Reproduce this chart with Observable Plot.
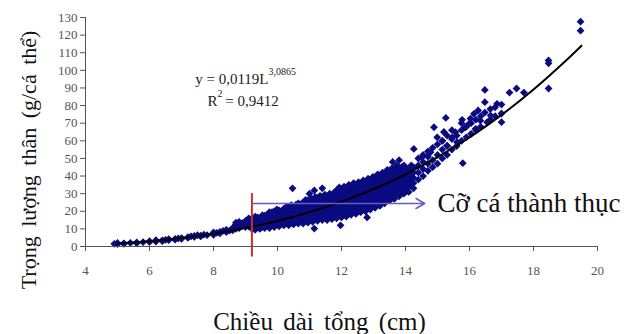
<!DOCTYPE html>
<html>
<head>
<meta charset="utf-8">
<script src="https://cdn.jsdelivr.net/npm/d3@7"></script>
<script src="https://cdn.jsdelivr.net/npm/@observablehq/plot@0.6"></script>
<style>
  html, body { margin: 0; padding: 0; background: #fff; }
  #chart svg { display: block; }
</style>
</head>
<body>
<div id="chart"></div>
<script>
// ---- tick labels ----
const xTicks = [4, 6, 8, 10, 12, 14, 16, 18, 20];
const yTicks = [0, 10, 20, 30, 40, 50, 60, 70, 80, 90, 100, 110, 120, 130];

// ---- text ----
const xLabel = "Chiều dài tổng (cm)";
const yLabel = "Trọng lượng thân (g/cá thể)";
const maturityLabel = "Cỡ cá thành thục";
const eqMain = "y = 0,0119L";
const eqExp = "3,0865";
const r2Main = "R";
const r2Exp = "2";
const r2Value = " = 0,9412";

// ---- maturity marker (length cm, weight g) ----
const maturityLength = [9.2];
const maturityArrow = [{from: 9.2, to: 14.6, w: 24.4}];

// ---- fitted curve (length cm, weight g) ----
const curveLength = [5, 6, 7, 8, 9, 10, 11, 12, 13, 14, 15, 16, 17, 18, 19, 19.5];
const curveWeight = [1.7, 3.0, 4.8, 7.3, 10.5, 14.5, 19.5, 25.5, 32.6, 41.0, 50.8, 61.9, 74.7, 89.1, 105.3, 114.0];

// ---- observed fish: each row = [length, weight, weight, ...] ----
const weightsByLength = [
  [4.9, 1.5], [5.0, 1.3, 2.0], [5.2, 1.8, 1.5], [5.4, 2.0], [5.6, 2.3, 1.9], [5.8, 2.5],
  [6.0, 3.0, 2.5], [6.2, 3.2, 2.8, 3.6], [6.4, 3.5, 3.0], [6.5, 3.8], [6.6, 3.6, 4.2],
  [6.8, 4.3, 3.9], [6.9, 4.6], [7.0, 4.8, 4.4], [7.2, 5.3, 4.9], [7.3, 5.8], [7.4, 6.0, 5.4],
  [7.5, 6.4], [7.6, 6.2, 5.7], [7.7, 6.7], [7.8, 6.5], [8.0, 7.2, 6.6, 8.0], [8.1, 7.8],
  [8.2, 8.3, 7.5], [8.3, 8.9], [8.4, 8.2, 9.5], [8.5, 9.0], [8.6, 10.5, 9.2],
  [8.7, 12.5, 10.0, 13.5], [8.8, 11.5, 14.0, 10.4], [8.9, 12.0, 13.3], [9.0, 11.0, 12.8, 14.5],
  [9.1, 11.5, 13.5, 16.0],
  // dense band of mature fish
  [9.2, 10, 12, 14.5, 16], [9.3, 9.5, 11.5, 13.5, 15.5, 17], [9.38, 10.8, 12.8, 14.8, 16.5],
  [9.45, 10, 12, 14, 16], [9.53, 11.2, 13.5, 16, 17.8], [9.6, 10.5, 12.5, 15, 17.5],
  [9.68, 11.8, 14, 16, 18.2], [9.75, 10.5, 13, 15, 17, 19.5], [9.83, 12.2, 14.8, 17.2, 19.5],
  [9.9, 11, 13.5, 16, 18.5, 20], [9.98, 12.5, 14.8, 17, 19.2, 21],
  [10.05, 11.5, 13.5, 16, 18, 20.5], [10.13, 12.8, 15.2, 17.8, 20.2],
  [10.2, 12, 14, 16.5, 19, 21.5], [10.28, 13.2, 15.8, 18.2, 20.8, 22.5],
  [10.35, 12, 14.5, 17, 19.5, 22], [10.43, 13.8, 16.2, 18.8, 21.2, 23.5],
  [10.5, 12.5, 15, 17.5, 20, 22.5], [10.58, 14, 16.2, 18.8, 21.2, 23.8],
  [10.65, 13, 15, 17.5, 20, 22.5, 24.5], [10.73, 14.2, 16.8, 19.2, 21.8, 24],
  [10.8, 13, 15.5, 18, 20.5, 23, 25], [10.88, 14.8, 17.2, 19.8, 22.2, 24.5, 26.5],
  [10.95, 13.5, 16, 18.5, 21, 23.5, 26], [11.03, 15.2, 17.8, 20.2, 22.8, 25.2, 27.5],
  [11.1, 14, 16.5, 19, 21.5, 24, 26.5], [11.18, 15.8, 18.2, 20.8, 23.2, 26, 28.2],
  [11.25, 14.5, 17, 19.5, 22, 24.5, 27.5], [11.33, 16.2, 18.8, 21.2, 23.8, 26.2, 28.8],
  [11.4, 15, 17.5, 20, 22.5, 25, 28], [11.48, 16.2, 18.8, 21.5, 24.2, 26.8, 29.5],
  [11.55, 15, 17.5, 20, 23, 25.5, 28.5], [11.63, 16.8, 19.2, 22, 24.8, 27.5, 30],
  [11.7, 15.5, 18, 20.5, 23.5, 26, 29], [11.78, 17.2, 19.8, 22.5, 25.2, 28, 30.8],
  [11.85, 16, 18.5, 21, 24, 26.5, 29.5, 32], [11.93, 17.8, 20.5, 23.2, 25.8, 28.5, 31.2, 33.5],
  [12.0, 16.5, 19, 22, 24.5, 27, 30, 32.5], [12.08, 18.2, 21.2, 23.8, 26.2, 28.8, 31.8, 34],
  [12.15, 17, 19.5, 22.5, 25, 27.5, 30.5, 33], [12.23, 19.2, 21.8, 24.5, 27.2, 29.8, 32.5, 35],
  [12.3, 18, 20.5, 23, 26, 28.5, 31, 34], [12.38, 19.8, 22.5, 25.2, 27.8, 30.5, 33.5, 36],
  [12.45, 18.5, 21, 24, 26.5, 29, 32, 35], [12.53, 20.8, 23.5, 26, 28.8, 31.5, 34.2, 36.5],
  [12.6, 19.5, 22, 25, 27.5, 30, 33, 35.5], [12.68, 21.5, 24.2, 27, 29.8, 32.5, 35.2, 37.5],
  [12.75, 20, 23, 25.5, 28.5, 31, 34, 36.5], [12.83, 22.5, 25.2, 28, 30.8, 33.5, 36.2, 38.5],
  [12.9, 21, 24, 26.5, 29.5, 32, 35, 37.5], [12.98, 23.5, 26.2, 29, 31.8, 34.5, 37.2, 39.5],
  [13.05, 22, 25, 27.5, 30.5, 33, 36, 38.5], [13.13, 24.5, 27.5, 30.2, 33, 35.5, 38.5, 41],
  [13.2, 23, 26, 29, 31.5, 34, 37, 40], [13.28, 25.8, 28.5, 31.5, 34.2, 37, 39.8, 42],
  [13.35, 24.5, 27, 30, 33, 35.5, 38.5, 41], [13.43, 27.2, 29.8, 32.5, 35.5, 38.2, 41.2, 43.5],
  [13.5, 26, 28.5, 31, 34, 37, 40, 42.5], [13.58, 28.5, 31.2, 33.8, 36.8, 39.5, 42.2, 44.5],
  [13.65, 27, 30, 32.5, 35.5, 38, 41, 43.5], [13.73, 29.8, 32.5, 35.2, 38.2, 40.8, 43.5, 46],
  [13.8, 28.5, 31, 34, 37, 39.5, 42, 45], [13.88, 31.2, 34, 36.8, 39.8, 42.5, 45],
  [13.95, 30, 33, 35.5, 38.5, 41, 44, 46], [14.03, 32.5, 35.5, 38.5, 41.5, 44.5],
  [14.1, 31, 34, 37, 40, 43], [14.18, 34.5, 37.5, 40.5, 43.5, 46],
  [14.25, 33, 36, 39, 42, 45],
  [14.4, 38, 42, 46, 50], [14.55, 40, 44, 48, 52], [14.7, 43, 47, 51, 54],
  [14.85, 45, 49, 56], [15.0, 47, 52, 58], [15.15, 50, 55, 60], [15.3, 52, 57, 63],
  [15.45, 55, 61, 66], [15.6, 57, 63], [15.75, 60, 66, 70], [15.9, 62, 68],
  [16.05, 64, 70], [16.2, 66, 72], [16.35, 68, 74], [16.65, 72, 78], [16.8, 74, 79],
  // scattered fish
  [10.47, 33], [11.0, 30], [11.15, 31.8, 10.2], [11.4, 33], [11.97, 12], [12.8, 16.5],
  [13.6, 48], [13.8, 49], [14.26, 55.4], [14.52, 50.7], [14.78, 53.5], [14.89, 67.7],
  [14.99, 62], [15.15, 60], [15.2, 65], [15.26, 73], [15.3, 57.3], [15.46, 62],
  [15.56, 64.9], [15.61, 59.2], [15.77, 71.9], [15.79, 47.3], [15.87, 67.7], [15.98, 69.6],
  [16.03, 72.6], [16.14, 75.3], [16.19, 66.8], [16.27, 77.2], [16.34, 71.5],
  [16.48, 81.9, 76, 88.9], [16.55, 70.6], [16.66, 74.3], [16.86, 81],
  [17.0, 80.6, 75.5, 70.6], [17.25, 87.4], [17.47, 89.7], [17.7, 87.4],
  [18.47, 105.6, 104, 89.7], [19.47, 127.6, 122.5]
];

const fish = weightsByLength.flatMap(([len, ...ws]) => ws.map(w => ({len, w})));
const curve = curveLength.map((len, i) => ({len, w: curveWeight[i]}));

const serif = "Liberation Serif, Times New Roman, serif";

const chart = Plot.plot({
  width: 635,
  height: 334,
  marginLeft: 85,
  marginRight: 38,
  marginTop: 17,
  marginBottom: 88,
  style: {fontFamily: serif, background: "#fff", overflow: "visible"},
  x: {domain: [4, 20]},
  y: {domain: [0, 130]},
  marks: [
    Plot.dot(fish, {x: "len", y: "w", symbol: "square", r: 3.1, rotate: 45, fill: "#0b0b80", stroke: "none"}),
    Plot.line(curve, {x: "len", y: "w", stroke: "#000", strokeWidth: 2, curve: "natural"}),
    Plot.ruleX(maturityLength, {y1: -6, y2: 30, stroke: "#c8302a", strokeWidth: 2}),
    Plot.arrow(maturityArrow, {x1: "from", x2: "to", y1: "w", y2: "w", stroke: "#6a5ac8", strokeWidth: 1.5, headLength: 10}),
    Plot.axisX({ticks: xTicks, tickSize: 5, tickPadding: 14, fontSize: 13, fontFamily: serif, color: "#555", label: null}),
    Plot.axisY({ticks: yTicks, tickSize: 5, tickPadding: 3, fontSize: 13, fontFamily: serif, color: "#555", label: null}),
    Plot.ruleY([0], {stroke: "#555"}),
    Plot.ruleX([4], {stroke: "#555"}),
    Plot.text([maturityLabel], {x: 15.0, y: 24.4, text: d => d, textAnchor: "start", fontSize: 27, fontFamily: serif, fill: "#111"}),
    Plot.text([eqMain], {x: 9.72, y: 94.8, text: d => d, textAnchor: "end", fontSize: 15, fontFamily: serif, fill: "#222"}),
    Plot.text([eqExp], {x: 9.72, y: 94.8, text: d => d, textAnchor: "start", fontSize: 10, fontFamily: serif, dy: -8, fill: "#222"}),
    Plot.text([r2Main], {x: 8.125, y: 82.3, text: d => d, textAnchor: "end", fontSize: 15, fontFamily: serif, fill: "#222"}),
    Plot.text([r2Exp], {x: 8.125, y: 82.3, text: d => d, textAnchor: "start", fontSize: 10, fontFamily: serif, dy: -8, fill: "#222"}),
    Plot.text([r2Value], {x: 8.125, y: 82.3, text: d => d, textAnchor: "start", fontSize: 15, fontFamily: serif, dx: 4, fill: "#222"}),
    Plot.text([yLabel], {frameAnchor: "left", text: d => d, textAnchor: "middle", lineAnchor: "middle", rotate: -90, dx: -57, dy: 28, fontSize: 22, fontFamily: serif, fill: "#111"}),
    Plot.text([xLabel], {frameAnchor: "bottom", text: d => d, textAnchor: "middle", lineAnchor: "middle", dy: 75, dx: -22, fontSize: 25, fontFamily: serif, fill: "#111"})
  ]
});

document.getElementById("chart").appendChild(chart);
// wider word spacing for the axis titles, as in the reference
d3.select(chart).selectAll("text")
  .filter(function() { return this.textContent === yLabel || this.textContent === xLabel; })
  .style("word-spacing", "4px");
</script>
</body>
</html>
